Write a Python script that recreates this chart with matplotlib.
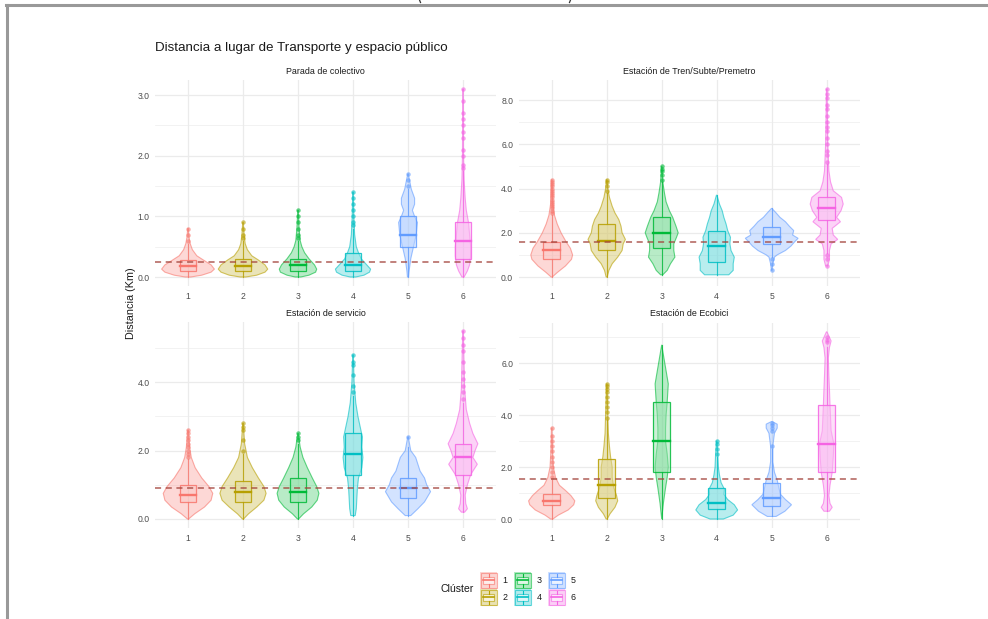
import numpy as np
import matplotlib
matplotlib.use("Agg")
import matplotlib.pyplot as plt
from matplotlib.lines import Line2D
from matplotlib.patches import Rectangle, Polygon

plt.rcParams["font.family"] = ["Liberation Sans", "DejaVu Sans"]

W, H = 988, 619

# --- data ---
clusters = ["1", "2", "3", "4", "5", "6"]
colors = ["#F8766D", "#B79F00", "#00BA38", "#00BFC4", "#619CFF", "#F564E3"]
facet_titles = ["Parada de colectivo", "Estación de Tren/Subte/Premetro",
                "Estación de servicio", "Estación de Ecobici"]
mean_lines = [0.25, 1.6, 0.9, 1.55]

# box stats per cluster: (q1, median, q3, whisker low, whisker high)
colectivo_box = [(0.1, 0.18, 0.28, 0.0, 0.55), (0.1, 0.18, 0.3, 0.0, 0.6),
                 (0.1, 0.2, 0.3, 0.0, 0.6), (0.1, 0.2, 0.4, 0.0, 0.8),
                 (0.5, 0.7, 1.0, 0.0, 1.45), (0.3, 0.6, 0.9, 0.0, 1.75)]
tren_box = [(0.8, 1.2, 1.6, 0.0, 2.8), (1.2, 1.65, 2.4, 0.0, 3.8),
            (1.3, 2.0, 2.7, 0.1, 4.3), (0.7, 1.4, 2.1, 0.1, 3.7),
            (1.5, 1.8, 2.25, 0.9, 3.1), (2.6, 3.1, 3.6, 1.1, 5.1)]
servicio_box = [(0.5, 0.7, 1.0, 0.0, 1.75), (0.5, 0.8, 1.1, 0.0, 1.9),
                (0.5, 0.8, 1.2, 0.0, 2.2), (1.3, 1.9, 2.5, 0.1, 3.6),
                (0.6, 0.9, 1.2, 0.1, 2.1), (1.3, 1.8, 2.2, 0.2, 3.4)]
ecobici_box = [(0.55, 0.7, 0.95, 0.0, 1.5), (0.8, 1.3, 2.3, 0.0, 3.8),
               (1.8, 3.0, 4.5, 0.0, 6.7), (0.4, 0.6, 1.2, 0.0, 2.4),
               (0.5, 0.8, 1.4, 0.1, 2.7), (1.8, 2.9, 4.4, 0.3, 6.6)]

# outlier points per cluster
colectivo_out = [[0.6, 0.7, 0.8], [0.65, 0.7, 0.8, 0.9],
                 [0.65, 0.7, 0.8, 0.9, 1.0, 1.1],
                 [0.85, 0.9, 1.0, 1.1, 1.2, 1.3, 1.4], [1.5, 1.6, 1.7],
                 [1.8, 1.85, 2.0, 2.1, 2.3, 2.4, 2.5, 2.6, 2.7, 2.9, 3.1]]
tren_out = [[2.9, 3.0, 3.1, 3.2, 3.3, 3.4, 3.5, 3.6, 3.7, 3.8, 3.9, 4.0, 4.1, 4.2, 4.3, 4.4],
            [3.9, 4.1, 4.3, 4.4], [4.4, 4.6, 4.8, 4.9, 5.0], [],
            [0.3, 0.6, 0.8],
            [0.5, 0.8, 1.0, 5.2, 5.5, 5.7, 6.0, 6.3, 6.6, 6.8, 7.0, 7.3, 7.6, 7.8, 8.1, 8.3, 8.5]]
servicio_out = [[1.8, 1.9, 2.0, 2.1, 2.2, 2.3, 2.4, 2.5, 2.6],
                [2.0, 2.3, 2.6, 2.7, 2.8], [2.3, 2.4, 2.5],
                [3.7, 3.9, 4.2, 4.5, 4.6, 4.8], [2.4],
                [3.5, 3.7, 3.9, 4.1, 4.3, 4.6, 4.9, 5.1, 5.3, 5.5]]
ecobici_out = [[1.6, 1.8, 2.0, 2.2, 2.4, 2.6, 2.8, 3.0, 3.2, 3.5],
               [3.9, 4.1, 4.3, 4.5, 4.7, 4.9, 5.0, 5.1, 5.2], [],
               [2.5, 2.7, 2.9, 3.0], [2.8, 3.4, 3.5, 3.6, 3.7], [6.8, 6.9, 7.0]]

# violin outlines: (distance, half width in cluster units)
colectivo_violin = [
    [(0, 0.05), (0.03, 0.25), (0.08, 0.42), (0.13, 0.48), (0.2, 0.42), (0.28, 0.28), (0.35, 0.16),
     (0.45, 0.08), (0.55, 0.04), (0.65, 0.02), (0.8, 0.005)],
    [(0, 0.05), (0.03, 0.25), (0.08, 0.4), (0.13, 0.45), (0.2, 0.4), (0.28, 0.28), (0.35, 0.16),
     (0.45, 0.08), (0.55, 0.04), (0.7, 0.02), (0.9, 0.005)],
    [(0, 0.05), (0.03, 0.2), (0.08, 0.32), (0.13, 0.34), (0.2, 0.3), (0.3, 0.2), (0.4, 0.12),
     (0.5, 0.07), (0.6, 0.04), (0.8, 0.02), (1.1, 0.005)],
    [(0, 0.05), (0.03, 0.2), (0.08, 0.3), (0.13, 0.32), (0.2, 0.25), (0.3, 0.15), (0.4, 0.1),
     (0.5, 0.06), (0.7, 0.03), (1.0, 0.015), (1.4, 0.005)],
    [(0, 0.01), (0.1, 0.02), (0.3, 0.05), (0.5, 0.1), (0.7, 0.15), (0.9, 0.17), (1.0, 0.12),
     (1.1, 0.08), (1.2, 0.12), (1.3, 0.12), (1.45, 0.06), (1.7, 0.005)],
    [(0, 0.02), (0.1, 0.08), (0.2, 0.12), (0.35, 0.14), (0.5, 0.14), (0.7, 0.12), (0.9, 0.1),
     (1.1, 0.06), (1.3, 0.04), (1.6, 0.02), (2.0, 0.01), (3.1, 0.005)],
]
tren_violin = [
    [(0, 0.01), (0.2, 0.1), (0.5, 0.25), (0.8, 0.36), (1.0, 0.38), (1.3, 0.34), (1.6, 0.26),
     (2.0, 0.17), (2.4, 0.1), (2.8, 0.05), (3.3, 0.02), (4.4, 0.005)],
    [(0, 0.01), (0.3, 0.04), (0.6, 0.1), (0.9, 0.2), (1.2, 0.28), (1.5, 0.3), (1.7, 0.34),
     (2.0, 0.28), (2.3, 0.26), (2.6, 0.22), (2.9, 0.15), (3.2, 0.1), (3.6, 0.05), (4.0, 0.02),
     (4.4, 0.005)],
    [(0.1, 0.02), (0.3, 0.1), (0.6, 0.16), (0.9, 0.24), (1.2, 0.22), (1.5, 0.22), (1.8, 0.27),
     (2.0, 0.3), (2.3, 0.26), (2.7, 0.2), (3.0, 0.14), (3.4, 0.08), (3.8, 0.05), (4.3, 0.02),
     (5.0, 0.005)],
    [(0.1, 0.22), (0.3, 0.3), (0.6, 0.3), (0.9, 0.32), (1.2, 0.26), (1.5, 0.24), (1.8, 0.25),
     (2.1, 0.2), (2.4, 0.17), (2.7, 0.13), (3.0, 0.1), (3.3, 0.05), (3.7, 0.005)],
    [(0.3, 0.005), (0.6, 0.02), (0.9, 0.05), (1.0, 0.1), (1.2, 0.25), (1.4, 0.35), (1.6, 0.42),
     (1.75, 0.48), (1.9, 0.38), (2.1, 0.4), (2.3, 0.32), (2.5, 0.25), (2.7, 0.15), (2.9, 0.08),
     (3.1, 0.005)],
    [(0.5, 0.02), (0.8, 0.05), (1.2, 0.05), (1.5, 0.08), (1.7, 0.2), (1.9, 0.12), (2.2, 0.1),
     (2.5, 0.25), (2.7, 0.18), (3.0, 0.26), (3.3, 0.3), (3.6, 0.27), (3.9, 0.12), (4.3, 0.07),
     (4.8, 0.04), (6.0, 0.02), (8.5, 0.005)],
]
servicio_violin = [
    [(0, 0.01), (0.15, 0.12), (0.35, 0.3), (0.55, 0.42), (0.75, 0.45), (0.95, 0.38), (1.2, 0.25),
     (1.5, 0.13), (1.8, 0.06), (2.1, 0.03), (2.6, 0.005)],
    [(0, 0.01), (0.15, 0.1), (0.35, 0.25), (0.55, 0.38), (0.75, 0.42), (0.95, 0.38), (1.2, 0.28),
     (1.5, 0.17), (1.8, 0.08), (2.2, 0.03), (2.8, 0.005)],
    [(0, 0.01), (0.15, 0.1), (0.35, 0.25), (0.55, 0.35), (0.75, 0.38), (0.95, 0.34), (1.2, 0.26),
     (1.5, 0.17), (1.8, 0.09), (2.1, 0.04), (2.5, 0.005)],
    [(0.1, 0.04), (0.3, 0.06), (0.6, 0.07), (0.9, 0.08), (1.2, 0.1), (1.5, 0.16), (1.8, 0.18),
     (2.1, 0.16), (2.4, 0.17), (2.7, 0.13), (3.0, 0.09), (3.4, 0.05), (4.0, 0.02), (4.8, 0.005)],
    [(0.1, 0.05), (0.3, 0.18), (0.5, 0.3), (0.8, 0.41), (1.0, 0.34), (1.2, 0.3), (1.4, 0.22),
     (1.6, 0.18), (1.8, 0.14), (2.0, 0.05), (2.4, 0.005)],
    [(0.2, 0.03), (0.3, 0.08), (0.45, 0.05), (0.7, 0.04), (1.0, 0.08), (1.3, 0.14), (1.6, 0.26),
     (1.8, 0.18), (2.0, 0.22), (2.2, 0.27), (2.5, 0.18), (2.8, 0.12), (3.2, 0.06), (3.8, 0.03),
     (5.5, 0.005)],
]
ecobici_violin = [
    [(0, 0.02), (0.15, 0.12), (0.35, 0.3), (0.55, 0.4), (0.7, 0.42), (0.9, 0.35), (1.1, 0.25),
     (1.3, 0.14), (1.6, 0.07), (2.0, 0.03), (2.6, 0.015), (3.5, 0.005)],
    [(0, 0.01), (0.2, 0.06), (0.45, 0.15), (0.7, 0.2), (0.9, 0.18), (1.2, 0.13), (1.6, 0.1),
     (2.0, 0.1), (2.4, 0.07), (2.8, 0.05), (3.3, 0.03), (4.0, 0.02), (5.2, 0.005)],
    [(0, 0.0), (0.6, 0.03), (1.2, 0.07), (1.6, 0.1), (2.0, 0.12), (2.5, 0.1), (3.0, 0.07),
     (3.5, 0.07), (4.0, 0.08), (4.5, 0.1), (5.2, 0.12), (5.7, 0.08), (6.2, 0.04), (6.7, 0.0)],
    [(0, 0.12), (0.15, 0.3), (0.35, 0.38), (0.55, 0.32), (0.75, 0.2), (0.95, 0.13), (1.15, 0.14),
     (1.4, 0.08), (1.7, 0.05), (2.0, 0.03), (2.5, 0.02), (3.0, 0.005)],
    [(0.1, 0.08), (0.3, 0.24), (0.55, 0.36), (0.75, 0.25), (0.95, 0.16), (1.2, 0.13), (1.5, 0.1),
     (1.8, 0.05), (2.2, 0.02), (2.8, 0.02), (3.3, 0.05), (3.5, 0.1), (3.65, 0.1), (3.75, 0.005)],
    [(0.3, 0.05), (0.45, 0.1), (0.6, 0.06), (0.9, 0.04), (1.3, 0.06), (1.8, 0.1), (2.4, 0.12),
     (2.9, 0.13), (3.4, 0.08), (3.9, 0.07), (4.4, 0.06), (5.0, 0.05), (5.5, 0.04), (6.2, 0.03),
     (6.6, 0.05), (6.85, 0.08), (7.2, 0.005)],
]

major_ticks = [[0, 1, 2, 3], [0, 2, 4, 6, 8], [0, 2, 4], [0, 2, 4, 6]]
minor_ticks = [[0.5, 1.5, 2.5], [1, 3, 5, 7], [1, 3, 5], [1, 3, 5, 7]]

facets = [
    (colectivo_box, colectivo_out, colectivo_violin),
    (tren_box, tren_out, tren_violin),
    (servicio_box, servicio_out, servicio_violin),
    (ecobici_box, ecobici_out, ecobici_violin),
]

# panel boxes in pixels: (left, top, right, bottom)
panel_px = [(155, 79.7, 496, 286.4), (518.7, 79.7, 859.7, 286.4),
            (155, 321.5, 496, 528.4), (518.7, 322.5, 859.7, 528.4)]

fig = plt.figure(figsize=(W / 100, H / 100), dpi=100)
grid_c = "#EBEBEB"
txt_c = "#4D4D4D"

for i, (box, outs, violins) in enumerate(facets):
    l, t, r, b = panel_px[i]
    ax = fig.add_axes([l / W, 1 - b / H, (r - l) / W, (b - t) / H])
    for s in ax.spines.values():
        s.set_visible(False)
    ax.set_xlim(0.4, 6.6)
    lo = min(p[0] for v in violins for p in v)
    hi = max(p[0] for v in violins for p in v)
    rng = hi - lo
    ax.set_ylim(lo - 0.05 * rng, hi + 0.05 * rng)

    for y in major_ticks[i]:
        ax.axhline(y, color=grid_c, lw=0.9, zorder=0)
    for y in minor_ticks[i]:
        ax.axhline(y, color=grid_c, lw=0.45, zorder=0)
    for k in range(1, 7):
        ax.axvline(k, color=grid_c, lw=0.9, zorder=0)

    for k, c in enumerate(colors):
        xc = k + 1
        prof = violins[k]
        ys = [p[0] for p in prof]
        ws = [p[1] for p in prof]
        verts = [(xc - w, y) for y, w in zip(ys, ws)] + \
                [(xc + w, y) for y, w in zip(ys[::-1], ws[::-1])]
        ax.add_patch(Polygon(verts, closed=True, facecolor=c, alpha=0.28,
                             edgecolor="none", zorder=2))
        ax.add_patch(Polygon(verts, closed=True, facecolor="none",
                             edgecolor=c, alpha=0.6, lw=0.8, zorder=3))
        q1, med, q3, wlo, whi = box[k]
        bw = 0.15
        ax.plot([xc, xc], [wlo, q1], color=c, lw=0.8, alpha=0.8, zorder=4)
        ax.plot([xc, xc], [q3, whi], color=c, lw=0.8, alpha=0.8, zorder=4)
        ax.add_patch(Rectangle((xc - bw, q1), 2 * bw, q3 - q1, facecolor="white",
                               alpha=0.35, edgecolor="none", zorder=4))
        ax.add_patch(Rectangle((xc - bw, q1), 2 * bw, q3 - q1, facecolor=c,
                               alpha=0.2, edgecolor="none", zorder=4))
        ax.add_patch(Rectangle((xc - bw, q1), 2 * bw, q3 - q1, facecolor="none",
                               edgecolor=c, lw=0.9, alpha=0.85, zorder=5))
        ax.plot([xc - bw, xc + bw], [med, med], color=c, lw=1.7, zorder=6)
        if outs[k]:
            ax.plot([xc] * len(outs[k]), outs[k], "o", color=c, ms=3.2,
                    alpha=0.6, mec="none", zorder=6)

    ax.axhline(mean_lines[i], color="#A3423A", lw=1.1, ls=(0, (4, 3)),
               alpha=0.85, zorder=7)

    ax.set_xticks(range(1, 7))
    ax.set_xticklabels(clusters)
    ax.set_yticks(major_ticks[i])
    ax.set_yticklabels(["%.1f" % v for v in major_ticks[i]])
    ax.tick_params(length=0, labelsize=6.2, labelcolor=txt_c, pad=4)
    ax.set_facecolor("none")
    fig.text((l + r) / 2 / W, 1 - (t - 8.5) / H, facet_titles[i], ha="center",
             va="center", fontsize=6.4, color="#1A1A1A")

fig.text(155 / W, 1 - 48 / H, "Distancia a lugar de Transporte y espacio público",
         ha="left", va="center", fontsize=9.6, color="#1A1A1A")
fig.text(131 / W, 1 - 303 / H, "Distancia (Km)", rotation=90, ha="center",
         va="center", fontsize=7.8, color="#1A1A1A")

# legend
lax = fig.add_axes([0, 0, 1, 1])
lax.set_xlim(0, W)
lax.set_ylim(H, 0)
lax.axis("off")
lax.text(457, 589, "Clúster", ha="center", va="center", fontsize=7.6, color="#1A1A1A")
key_x = [480, 480, 514, 514, 548, 548]
key_y = [572, 589, 572, 589, 572, 589]
for k, c in enumerate(colors):
    x0, y0 = key_x[k], key_y[k]
    lax.add_patch(Rectangle((x0, y0), 17, 16.5, facecolor=c, alpha=0.3,
                            edgecolor="none"))
    lax.add_patch(Rectangle((x0 + 0.5, y0 + 0.5), 16, 15.5, facecolor="none",
                            edgecolor=c, alpha=0.6, lw=0.8))
    lax.add_patch(Rectangle((x0 + 3, y0 + 4.5), 11, 7.5, facecolor="white",
                            alpha=0.6, edgecolor=c, lw=0.8))
    lax.plot([x0 + 3, x0 + 14], [y0 + 8.25, y0 + 8.25], color=c, lw=1.2)
    lax.plot([x0 + 8.5, x0 + 8.5], [y0 + 1.5, y0 + 4.5], color=c, lw=0.8)
    lax.plot([x0 + 8.5, x0 + 8.5], [y0 + 12, y0 + 15], color=c, lw=0.8)
    lax.text(x0 + 25, y0 + 8.5, clusters[k], ha="center", va="center",
             fontsize=6.4, color="#1A1A1A")

# screenshot frame, with the cut-off marks above it
lax.add_line(Line2D([6, W], [5, 5], color="#999999", lw=2.2))
lax.add_line(Line2D([7, 7], [5, H], color="#999999", lw=2.2))
lax.add_line(Line2D([419.5, 420.5], [0, 2.5], color="#333333", lw=0.9))
lax.add_line(Line2D([570.5, 569.5], [0, 2.5], color="#333333", lw=0.9))

fig.savefig("out.png", dpi=100, facecolor="white")
